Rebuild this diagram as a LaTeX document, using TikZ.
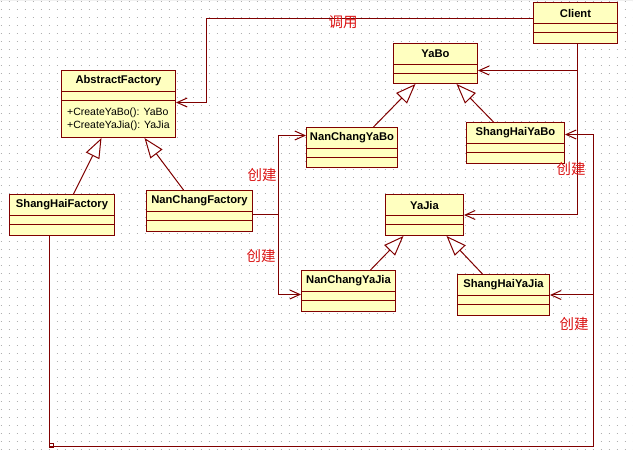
\documentclass[tikz,border=0pt]{standalone}
\usepackage{fontspec}
\setmainfont{Liberation Sans}
\newfontfamily\cjk{Noto Sans CJK SC}
\usetikzlibrary{calc,arrows.meta}
\definecolor{umlred}{RGB}{128,0,0}
\definecolor{umlfill}{RGB}{255,255,192}
\definecolor{notered}{RGB}{220,20,20}
\definecolor{griddot}{RGB}{175,175,175}
\tikzset{
  classbox/.style={draw=umlred, fill=umlfill, line width=1pt, inner sep=0pt},
  classname/.style={font=\fontsize{11.2}{13}\selectfont\bfseries, inner sep=0pt},
  classop/.style={font=\fontsize{10.5}{13}\selectfont, inner sep=0pt, anchor=base west},
  dep/.style={umlred, line width=1pt, -{Straight Barb[length=10pt,width=9pt]}},
  inherit/.style={umlred, line width=1pt, -{Triangle[length=20pt,width=15pt,fill=white]}},
  note/.style={text=notered, font=\cjk\fontsize{14.5}{16}\selectfont, inner sep=0pt}
}
\def\umlclass(#1,#2,#3,#4,#5,#6){
  \node[classbox, anchor=north west, minimum width=#4pt, minimum height=#5pt] (#1) at (#2,#3) {};
  \node[classname] (#1t) at ($(#1.north)+(0,11)$) {#6};
  \draw[umlred, line width=1pt] ($(#1.north west)+(0,22)$) -- ($(#1.north east)+(0,22)$);
  \draw[umlred, line width=1pt] ($(#1.north west)+(0,31)$) -- ($(#1.north east)+(0,31)$);
}

\begin{document}
\begin{tikzpicture}[x=1pt,y=-1pt]
\useasboundingbox (0,0) rectangle (633,457);
\fill[white] (0,0) rectangle (633,457);
\fill[gray!12] (0,0) rectangle (633,1.5);
\foreach \gy in {1.5,9.5,...,457}
  \draw[griddot, line width=1pt, dash pattern=on 1pt off 7pt] (0.5,\gy) -- (633,\gy);
\umlclass(Client,533,2,84,41,Client)
\umlclass(AF,61,70,114,67,AbstractFactory)
\node[classop] (AFop1) at (67,116) {+CreateYaBo(): YaBo};
\node[classop] (AFop2) at (67,129) {+CreateYaJia(): YaJia};
\umlclass(SHF,9,194,105,41,ShangHaiFactory)
\umlclass(NCF,146,190,106,41,NanChangFactory)
\umlclass(YaBo,393,43,84,40,YaBo)
\umlclass(NCYB,306,127,91,40,NanChangYaBo)
\umlclass(SHYB,466,122,98,41,ShangHaiYaBo)
\umlclass(YaJia,385,194,78,41,YaJia)
\umlclass(NCYJ,301,270,94,41,NanChangYaJia)
\umlclass(SHYJ,457,274,92,41,ShangHaiYaJia)
\draw[inherit] ([xshift=11.5pt]SHF.north) -- ([xshift=-17pt]AF.south);
\draw[inherit] ([xshift=-16pt]NCF.north) -- ([xshift=26pt]AF.south);
\draw[inherit] ([xshift=21.5pt]NCYB.north) -- ([xshift=-20pt]YaBo.south);
\draw[inherit] ([xshift=-22pt]SHYB.north) -- ([xshift=21pt]YaBo.south);
\draw[inherit] ([xshift=22pt]NCYJ.north) -- ([xshift=-21pt]YaJia.south);
\draw[inherit] ([xshift=-21pt]SHYJ.north) -- ([xshift=22pt]YaJia.south);
\draw[dep] ([yshift=4.5pt]Client.west) -| ([xshift=30pt,yshift=1.5pt]AF.east) -- ([yshift=1.5pt]AF.east);
\node[note] (call) at (343,22) {调用};
\draw[dep] ([xshift=2pt]Client.south) |- ([yshift=-7pt]YaBo.east);
\draw[dep] ([xshift=2pt]Client.south) |- (YaJia.east);
\coordinate (ncfork) at ($(NCF.east)+(25,3.5)$);
\draw[umlred, line width=1pt] ([yshift=-3.5pt]NCF.east) -- (ncfork);
\draw[dep] (ncfork) |- ([yshift=12pt]NCYB.west);
\draw[dep] (ncfork) |- ([yshift=-3.5pt]NCYJ.west);
\node[note] (make1) at (262,175) {创建};
\node[note] (make2) at (261,256) {创建};
\coordinate (shcorner) at (593,447);
\path ([xshift=-12.5pt]SHF.south) coordinate (shtop);
\draw[dep] (shtop) |- (shcorner) |- ([yshift=8.5pt]SHYB.east);
\draw[dep] (shcorner) |- (SHYJ.east);
\draw[umlred, line width=0.8pt] (shtop |- shcorner) rectangle ++(4,-4);
\node[note] (make3) at (571,169) {创建};
\node[note] (make4) at (574,324) {创建};
\end{tikzpicture}
\end{document}
